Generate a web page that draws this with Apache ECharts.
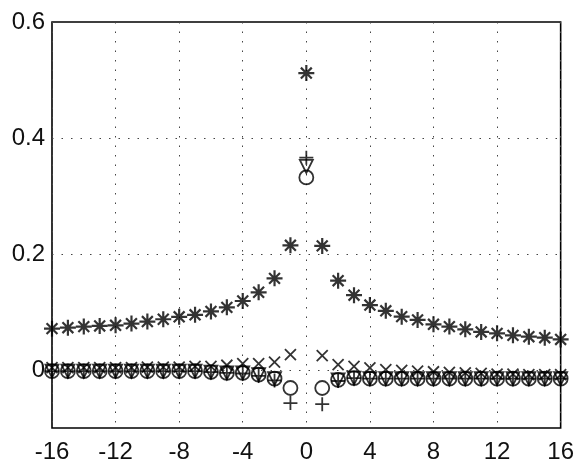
<!DOCTYPE html>
<html>
<head>
<meta charset="utf-8">
<script src="https://cdn.jsdelivr.net/npm/echarts@6/dist/echarts.min.js"></script>
<style>
html,body{margin:0;padding:0;background:#fff;}
#chart{width:577px;height:472px;}
</style>
</head>
<body>
<div id="chart"></div>
<script>
// x positions
const xValues = [-16,-15,-14,-13,-12,-11,-10,-9,-8,-7,-6,-5,-4,-3,-2,-1,0,1,2,3,4,5,6,7,8,9,10,11,12,13,14,15,16];
// series values
const asteriskVals = [0.0713,0.0730,0.0748,0.0760,0.0770,0.0800,0.0835,0.0875,0.0917,0.0951,0.1010,0.1080,0.1190,0.1340,0.1580,0.2150,0.5120,0.2140,0.1540,0.1290,0.1120,0.1020,0.0920,0.0864,0.0788,0.0748,0.0701,0.0656,0.0632,0.0597,0.0574,0.0557,0.0527];
const crossVals = [0.004,0.004,0.004,0.004,0.004,0.004,0.005,0.005,0.005,0.0064,0.0064,0.0082,0.011,0.011,0.0134,0.0266,null,0.0249,0.0092,0.0064,0.0035,0.0005,-0.0005,-0.002,-0.003,-0.004,-0.005,-0.006,-0.007,-0.007,-0.008,-0.008,-0.008];
const circleVals = [-0.002,-0.002,-0.002,-0.002,-0.002,-0.002,-0.002,-0.002,-0.002,-0.002,-0.0035,-0.005,-0.005,-0.008,-0.015,-0.031,0.332,-0.031,-0.017,-0.014,-0.015,-0.015,-0.015,-0.015,-0.015,-0.015,-0.015,-0.015,-0.015,-0.015,-0.015,-0.015,-0.015];
const plusVals = [-0.002,-0.002,-0.002,-0.002,-0.002,-0.002,-0.002,-0.002,-0.002,-0.002,-0.0035,-0.005,-0.006,-0.010,-0.018,-0.057,0.366,-0.059,-0.019,-0.014,-0.015,-0.015,-0.015,-0.015,-0.015,-0.015,-0.015,-0.015,-0.015,-0.015,-0.015,-0.015,-0.015];
const triVals = [-0.002,-0.002,-0.002,-0.002,-0.002,-0.002,-0.002,-0.002,-0.002,-0.002,-0.0035,-0.005,-0.005,-0.008,-0.015,null,0.351,null,-0.017,-0.014,-0.015,-0.015,-0.015,-0.015,-0.015,-0.015,-0.015,-0.015,-0.015,-0.015,-0.015,-0.015,-0.015];
// tick labels
const xTicks = [-16,-12,-8,-4,0,4,8,12,16];
const yTickLabels = ['0','0.2','0.4','0.6'];
const yGridValues = [0,0.2,0.4];

const pair = vals => xValues.map((x,i)=> vals[i]===null ? null : [x, vals[i]]).filter(p=>p!==null);

const FONT = 'Liberation Sans, Arial, Helvetica, sans-serif';
const ink = '#000';
const dotStyle = {color:'#444', width:1, type:[1.5,8]};
const markerStyle = {color:'rgba(0,0,0,0)', borderColor:ink, borderWidth:1.8};

const chart = echarts.init(document.getElementById('chart'), null, {renderer:'canvas'});
chart.setOption({
  animation:false,
  backgroundColor:'#fff',
  grid:{left:52, right:15, top:22, bottom:44, show:true, borderColor:ink, borderWidth:1.6, backgroundColor:'rgba(0,0,0,0)'},
  xAxis:{
    type:'value', min:-16, max:16, interval:4,
    axisLine:{show:false}, axisTick:{show:false},
    axisLabel:{fontSize:24, color:'#111', fontFamily:FONT, margin:12,
      formatter: v => xTicks.indexOf(Math.round(v))>=0 ? String(Math.round(v)) : ''},
    splitLine:{show:true, lineStyle:dotStyle}
  },
  yAxis:{
    type:'value', min:-0.1, max:0.6, interval:0.1,
    axisLine:{show:false}, axisTick:{show:false},
    axisLabel:{fontSize:24, color:'#111', fontFamily:FONT, margin:7,
      formatter: v => { const k = Math.round(v*10); if (k<0 || k%2!==0) return ''; return yTickLabels[k/2]; }},
    splitLine:{show:false}
  },
  series:[
    {type:'scatter', name:'grid', data:[], silent:true,
     markLine:{silent:true, symbol:'none', label:{show:false}, lineStyle:dotStyle,
       data: yGridValues.map(v=>({yAxis:v}))}},
    {type:'scatter', name:'asterisk', data:pair(asteriskVals), symbol:'path://M5,0L5,10M0,5L10,5M1.6,1.6L8.4,8.4M1.6,8.4L8.4,1.6', symbolSize:16, itemStyle:{color:'rgba(0,0,0,0)', borderColor:ink, borderWidth:2.2}},
    {type:'scatter', name:'cross', data:pair(crossVals), symbol:'path://M0,0L10,10M0,10L10,0', symbolSize:11, itemStyle:markerStyle},
    {type:'scatter', name:'circle', data:pair(circleVals), symbol:'circle', symbolSize:14, itemStyle:markerStyle},
    {type:'scatter', name:'plus', data:pair(plusVals), symbol:'path://M5,0L5,10M0,5L10,5', symbolSize:14, itemStyle:markerStyle},
    {type:'scatter', name:'triangle', data:pair(triVals), symbol:'path://M0,0L10,0L5,8.66Z', symbolSize:13, itemStyle:markerStyle}
  ]
});
</script>
</body>
</html>
